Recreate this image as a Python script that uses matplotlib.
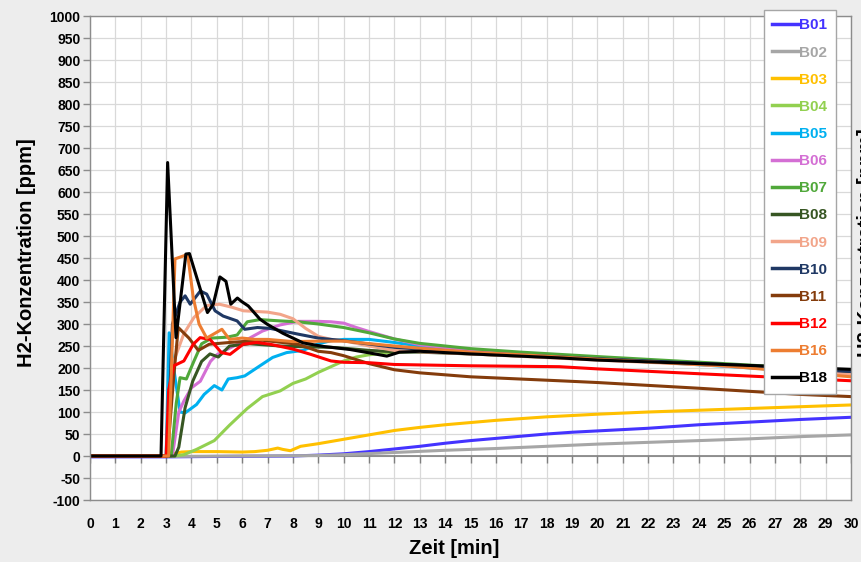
import matplotlib
matplotlib.use("Agg")
import matplotlib.pyplot as plt
import numpy as np

plt.rcParams['font.family'] = ['Liberation Sans', 'DejaVu Sans']
plt.rcParams['font.weight'] = 'bold'
plt.rcParams['axes.unicode_minus'] = False

# ---------------- data ----------------
labels = ["B01", "B02", "B03", "B04", "B05", "B06", "B07", "B08", "B09", "B10", "B11", "B12", "B16", "B18"]
colors = ["#4433ff", "#a6a6a6", "#ffc000", "#92d050", "#00b0f0", "#d46fd4", "#50a83a",
          "#375623", "#f2a58a", "#1f3864", "#843c0c", "#ff0000", "#ed7d31", "#000000"]

t_B01 = [0, 3, 5, 8, 9, 10, 11, 12, 13, 14, 15, 16, 17, 18, 19, 20, 22, 24, 26, 28, 30]
v_B01 = [-2, -2, -1, 0, 2, 5, 10, 16, 22, 29, 35, 40, 45, 50, 54, 57, 63, 71, 77, 83, 88]

t_B02 = [0, 3, 6, 9, 10, 12, 14, 16, 18, 20, 22, 24, 26, 28, 30]
v_B02 = [-1, -1, 0, 1, 3, 8, 13, 17, 22, 27, 31, 35, 39, 44, 48]

t_B03 = [0, 3.05, 3.3, 3.6, 4, 5, 6, 6.5, 7, 7.4, 7.6, 7.9, 8.3, 9, 10, 11, 12, 13, 14, 15,
         16, 17, 18, 19, 20, 22, 24, 26, 28, 30]
v_B03 = [0, 0, 5, 9, 10, 10, 9, 10, 13, 18, 15, 12, 22, 28, 38, 48, 58, 65, 71, 76,
         81, 85, 89, 92, 95, 100, 104, 108, 112, 116]

t_B04 = [0, 3.3, 3.7, 4.2, 4.9, 5.5, 6.2, 6.8, 7.5, 8.0, 8.5, 9.0, 9.5, 10, 10.5, 11, 12, 13,
         15, 17, 20, 25, 30]
v_B04 = [0, 0, 3, 15, 35, 70, 108, 135, 148, 165, 175, 190, 203, 216, 225, 230, 236, 238,
         236, 232, 222, 208, 190]

t_B05 = [0, 3.0, 3.12, 3.3, 3.55, 3.75, 4.2, 4.5, 4.9, 5.2, 5.45, 5.8, 6.1, 6.7, 7.2, 7.75,
         8.4, 9, 9.5, 10, 11, 12, 13, 15, 17, 20, 25, 30]
v_B05 = [0, 0, 280, 200, 100, 98, 117, 140, 160, 150, 175, 178, 182, 205, 224, 235,
         240, 255, 262, 265, 265, 258, 250, 240, 232, 221, 204, 186]

t_B06 = [0, 3.25, 3.5, 3.7, 4.0, 4.35, 4.75, 5.0, 5.5, 6.2, 6.8, 7.5, 8.2, 9.0, 9.5, 10, 10.5,
         11, 12, 13, 15, 17, 20, 25, 30]
v_B06 = [0, 0, 100, 125, 155, 170, 215, 230, 245, 265, 284, 298, 306, 306, 305, 302, 292,
         283, 266, 253, 240, 232, 222, 205, 186]

t_B07 = [0, 3.2, 3.4, 3.55, 3.8, 4.1, 4.4, 4.8, 5.4, 5.8, 6.2, 6.7, 7.5, 8.2, 9.0, 10, 11, 12,
         13, 15, 17, 20, 25, 30]
v_B07 = [0, 0, 120, 178, 175, 216, 255, 268, 270, 275, 305, 310, 307, 305, 300, 292, 280, 266,
         256, 244, 236, 226, 210, 193]

t_B08 = [0, 3.35, 3.5, 3.75, 4.05, 4.4, 4.73, 5.06, 5.5, 6.3, 7.5, 8.5, 9.5, 10, 11, 12, 13,
         15, 20, 25, 30]
v_B08 = [0, 0, 20, 110, 170, 215, 232, 225, 250, 255, 250, 248, 247, 245, 240, 237, 236,
         232, 220, 208, 192]

t_B09 = [0, 3.05, 3.3, 3.7, 4.1, 4.6, 5.1, 5.6, 6.05, 7.0, 7.5, 8.0, 8.5, 9.0, 9.5, 10, 11, 12,
         13, 15, 20, 25, 30]
v_B09 = [0, 0, 215, 278, 315, 342, 345, 338, 330, 327, 322, 312, 290, 272, 265, 262, 250, 240,
         237, 232, 218, 205, 185]

t_B10 = [0, 3.05, 3.25, 3.55, 3.75, 3.95, 4.35, 4.6, 4.93, 5.25, 5.8, 6.1, 6.6, 7.1, 8.2, 9.0,
         10, 12, 15, 20, 25, 30]
v_B10 = [0, 0, 300, 350, 364, 345, 375, 368, 330, 318, 307, 288, 292, 290, 277, 268,
         262, 247, 235, 221, 208, 192]

t_B11 = [0, 3.05, 3.3, 3.48, 3.9, 4.27, 4.7, 5.5, 6.8, 8.2, 9.0, 9.5, 10, 11, 12, 13, 15,
         18.5, 20, 24, 28, 30]
v_B11 = [0, 0, 180, 292, 268, 240, 254, 258, 263, 254, 238, 235, 228, 210, 196, 189, 180,
         171, 167, 154, 140, 135]

t_B12 = [0, 3.0, 3.1, 3.3, 3.7, 4.07, 4.34, 4.73, 5.18, 5.52, 6.04, 6.57, 7.1, 8.0, 8.7, 9.5,
         10, 11, 12, 15, 18.5, 20, 24, 30]
v_B12 = [0, 0, 150, 205, 216, 254, 269, 265, 235, 231, 254, 258, 254, 243, 231, 216,
         213, 212, 208, 205, 203, 198, 187, 171]

t_B16 = [0, 3.1, 3.35, 3.85, 4.07, 4.3, 4.6, 5.2, 5.5, 6.0, 6.5, 7.0, 8.0, 9.0, 10, 12, 13,
         15, 17, 20, 25, 30]
v_B16 = [0, 0, 448, 458, 360, 300, 268, 288, 265, 268, 265, 265, 260, 261, 261, 250, 245,
         236, 230, 220, 205, 180]

t_B18 = [0, 2.8, 3.06, 3.39, 3.78, 3.92, 4.63, 4.86, 5.12, 5.36, 5.55, 5.81, 5.98, 6.24, 6.7,
         7.0, 7.6, 8.4, 9.2, 10.25, 11.04, 11.7, 12.2, 13, 15, 18.5, 20, 25, 30]
v_B18 = [0, 0, 667, 269, 459, 460, 326, 345, 407, 397, 345, 359, 351, 341, 311,
         299, 279, 257, 249, 242, 234, 227, 236, 238, 232, 223, 218, 208, 197]

series_t = [t_B01, t_B02, t_B03, t_B04, t_B05, t_B06, t_B07, t_B08, t_B09, t_B10, t_B11, t_B12, t_B16, t_B18]
series_v = [v_B01, v_B02, v_B03, v_B04, v_B05, v_B06, v_B07, v_B08, v_B09, v_B10, v_B11, v_B12, v_B16, v_B18]

x_ticks = list(range(0, 31))
y_ticks = list(range(-100, 1001, 50))

# ---------------- figure ----------------
W, H = 861, 562
fig = plt.figure(figsize=(W / 100, H / 100), dpi=100, facecolor='#ededed')
ax = fig.add_axes([90 / W, 1 - 500 / H, (851 - 90) / W, (500 - 16) / H])
ax.set_facecolor('white')

for t, v, c, lab in zip(series_t, series_v, colors, labels):
    ax.plot(t, v, color=c, lw=2.2, label=lab, solid_joinstyle='round')

ax.set_xlim(0, 30)
ax.set_ylim(-100, 1000)
ax.set_xticks(x_ticks)
ax.set_yticks(y_ticks)
ax.grid(True, color='#d9d9d9', lw=0.9)
ax.set_axisbelow(True)
for s in ax.spines.values():
    s.set_color('#8c8c8c')
    s.set_linewidth(1.0)

ax.tick_params(axis='y', direction='out', length=5, width=1, color='#8c8c8c',
               labelsize=10, pad=2)
ax.tick_params(axis='x', length=0, labelsize=10, pad=12)
for lbl in ax.get_xticklabels() + ax.get_yticklabels():
    lbl.set_fontweight('bold')

# zero axis line with tick marks
ax.axhline(0, color='#7f7f7f', lw=1.2, zorder=1.5)
ax.plot(x_ticks, [0] * len(x_ticks), linestyle='none', marker=3, markersize=5,
        color='#7f7f7f', markeredgewidth=1.0, zorder=1.5)

# axis titles
fig.text(454 / W, 1 - 549 / H, 'Zeit [min]', ha='center', va='center',
         fontsize=14.5, fontweight='bold')
fig.text(27 / W, 1 - 253 / H, 'H2-Konzentration [ppm]', ha='center', va='center',
         rotation=90, fontsize=14.5, fontweight='bold')
# secondary axis title, partly outside the canvas as in the reference
fig.text(866 / W, 1 - 243 / H, 'H2-Konzentration [ppm]', ha='center', va='center',
         rotation=90, fontsize=14.5, fontweight='bold')

# legend
leg = ax.legend(loc='upper left', bbox_to_anchor=(764 / W, 1 - 10 / H),
                bbox_transform=fig.transFigure, borderaxespad=0, frameon=True,
                fancybox=False, framealpha=1, edgecolor='#a6a6a6',
                prop={'size': 11, 'weight': 'bold'}, handlelength=1.65,
                handletextpad=0.1, labelspacing=0.86, borderpad=0.55)
leg.get_frame().set_linewidth(1.0)
for txt, c in zip(leg.get_texts(), colors):
    txt.set_color(c)
for h in leg.get_lines():
    h.set_linewidth(2.5)

fig.savefig('out.png', dpi=100, facecolor=fig.get_facecolor())
